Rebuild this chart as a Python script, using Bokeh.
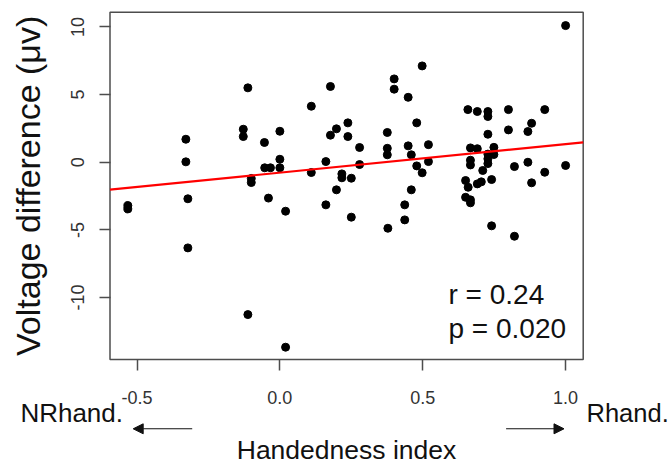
import math
from bokeh.plotting import figure
from bokeh.models import Label, Arrow, NormalHead, ColumnDataSource, FixedTicker, CustomJSTickFormatter
from bokeh.embed import file_html
from bokeh.resources import INLINE

# ---------------- data ----------------
hand_index = [
    -0.532, -0.532, -0.329, -0.329, -0.322, -0.322, -0.128, -0.128, -0.112, -0.112,
    -0.100, -0.100, -0.054, -0.053, -0.033, -0.040, 0.000, 0.000, 0.000, 0.020,
    0.020, 0.110, 0.110, 0.161, 0.161, 0.177, 0.177, 0.198, 0.198, 0.217,
    0.217, 0.238, 0.238, 0.250, 0.250, 0.279, 0.279, 0.376, 0.376, 0.376,
    0.378, 0.400, 0.400, 0.437, 0.437, 0.449, 0.449, 0.460, 0.460, 0.479,
    0.479, 0.498, 0.498, 0.520, 0.520, 0.650, 0.650, 0.658, 0.659, 0.667,
    0.667, 0.667, 0.667, 0.667, 0.691, 0.691, 0.691, 0.705, 0.710, 0.728,
    0.728, 0.728, 0.728, 0.728, 0.728, 0.749, 0.749, 0.741, 0.741, 0.800,
    0.800, 0.821, 0.821, 0.868, 0.881, 0.868, 0.881, 0.927, 0.927, 1.000,
    1.000,
]
volt_diff = [
    -3.20, -3.45, 1.70, 0.03, -2.70, -6.33, 2.44, 1.90, 5.50, -11.26,
    -1.20, -1.50, 1.46, -0.41, -0.41, -2.65, 2.29, 0.22, -0.41, -3.62,
    -13.67, 4.14, -0.76, 0.05, -3.15, 5.60, 2.00, 2.47, -2.04, -0.86,
    -1.15, 2.91, 1.90, -1.18, -4.06, 1.09, -0.17, 2.20, 1.03, 0.55,
    -4.88, 6.16, 5.40, -3.15, -4.26, 4.80, 1.21, 0.55, -2.04, 2.91,
    -0.27, 7.12, -0.78, 1.30, 0.05, -1.35, -2.59, 3.89, -1.85, 1.06,
    0.15, -0.20, -2.78, -3.00, 3.75, 1.00, -1.60, -1.45, -0.61, 3.75,
    3.38, 2.07, 0.60, 0.25, -0.10, 1.10, 0.57, -1.28, -4.70, 3.89,
    2.39, -0.32, -5.47, 2.27, 2.88, 0.00, -1.52, 3.89, -0.74, 10.10,
    -0.24,
]
fit_intercept = -0.77
fit_slope = 2.11
r_text = "r = 0.24"
p_text = "p = 0.020"

x_ticks = [-0.5, 0.0, 0.5, 1.0]
x_tick_labels = ["-0.5", "0.0", "0.5", "1.0"]
y_ticks = [-10, -5, 0, 5, 10]
y_tick_labels = ["-10", "-5", "0", "5", "10"]

x_title = "Handedness index"
y_title = "Voltage difference (\u03bcv)"
left_note = "NRhand."
right_note = "Rhand."

# ---------------- layout ----------------
W, H = 671, 463
X0, X1 = -0.5945, 1.0616          # box (plot region) limits
Y0, Y1 = -14.58, 11.09
BX0, BX1, BY0, BY1 = 109.5, 582.7, 11.7, 359.0   # box in canvas px
kx = (X1 - X0) / (BX1 - BX0)
ky = (Y1 - Y0) / (BY1 - BY0)
FONT = "Liberation Sans"
AX = "#4d4d4d"

p = figure(width=W, height=H,
           x_range=(X0 - BX0 * kx, X1 + (W - BX1) * kx),
           y_range=(Y0 - (H - BY1) * ky, Y1 + BY0 * ky),
           output_backend="svg", toolbar_location=None,
           min_border=0)
p.grid.visible = False
p.background_fill_color = "white"
p.border_fill_color = "white"
p.outline_line_color = None


def dx(px):
    return X0 + (px - BX0) * kx


def dy(py):
    return Y1 - (py - BY0) * ky


# plot box
p.quad(left=[X0], right=[X1], bottom=[Y0], top=[Y1], fill_color=None,
       line_color=AX, line_width=1.5)

fmt_js = "const i = tv.findIndex(t => Math.abs(t - tick) < 1e-9); return i >= 0 ? tl[i] : '';"
p.xaxis.ticker = FixedTicker(ticks=x_ticks)
p.xaxis.formatter = CustomJSTickFormatter(args=dict(tv=x_ticks, tl=x_tick_labels), code=fmt_js)
p.yaxis.ticker = FixedTicker(ticks=y_ticks)
p.yaxis.formatter = CustomJSTickFormatter(args=dict(tv=y_ticks, tl=y_tick_labels), code=fmt_js)
p.xaxis.fixed_location = Y0
p.yaxis.fixed_location = X0

for ax in (p.xaxis[0], p.yaxis[0]):
    ax.axis_line_color = None
    ax.major_tick_line_color = AX
    ax.major_tick_line_width = 1.5
    ax.major_tick_out = 11
    ax.major_tick_in = 0
    ax.minor_tick_line_color = None
    ax.major_label_text_font = FONT
    ax.major_label_text_font_size = "18px"
    ax.major_label_text_color = "#333333"
p.yaxis.major_label_orientation = "vertical"
p.yaxis.major_label_standoff = 15
p.xaxis.major_label_standoff = 20

src = ColumnDataSource(dict(x=hand_index, y=volt_diff))
p.scatter("x", "y", source=src, size=8, fill_color="black", line_color="black")

line_x = [X0, X1]
line_y = [fit_intercept + fit_slope * v for v in line_x]
p.line(line_x, line_y, line_color="#ff0000", line_width=2.2)


def lab(px, py, text, size, **kw):
    p.add_layout(Label(x=dx(px), y=dy(py), text=text, text_font=FONT,
                       text_font_size=size, text_color="#111111",
                       text_baseline="middle", **kw))


lab(448, 294, r_text, "28px")
lab(448, 327.5, p_text, "28px")
lab(346, 449, x_title, "26.5px", text_align="center")
lab(27, (BY0 + BY1) / 2, y_title, "34px", text_align="center", angle=math.pi / 2)
lab(122.5, 412, left_note, "26px", text_align="right")
lab(586, 412, right_note, "25.5px")

for xs, xe in ((191.7, 132.7), (505.6, 563.5)):
    p.add_layout(Arrow(x_start=dx(xs), y_start=dy(428.3), x_end=dx(xe), y_end=dy(428.3),
                       line_color="#111111", line_width=1.1,
                       end=NormalHead(size=10, fill_color="#111111", line_color="#111111",
                                      line_width=1)))

open("out.html", "w").write(file_html(p, INLINE))
